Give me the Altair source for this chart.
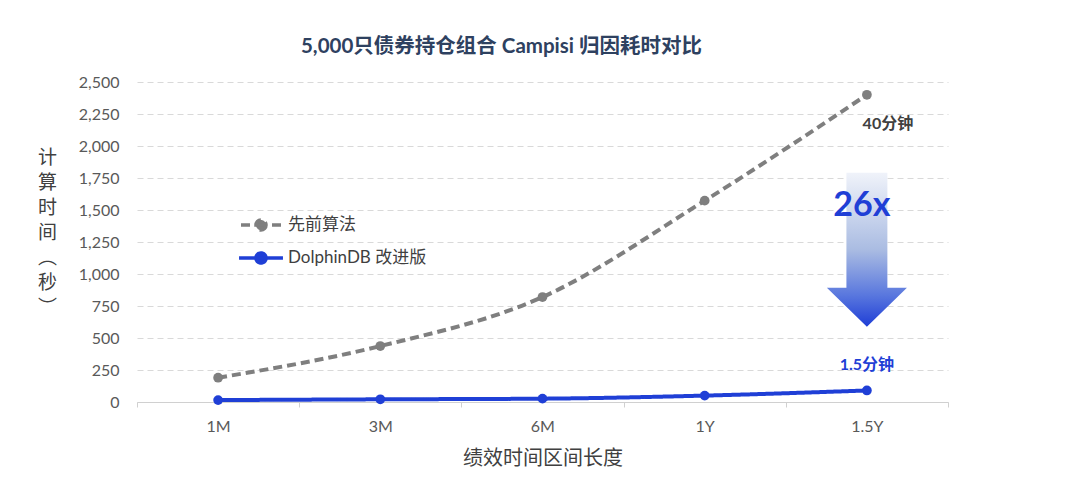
import json
import altair as alt
import pandas as pd

# ---------------- data ----------------
categories = ["1M", "3M", "6M", "1Y", "1.5Y"]
series_names = ["先前算法", "DolphinDB 改进版"]
old_values = [190, 437, 820, 1573, 2400]
new_values = [15, 21, 26, 50, 90]
y_ticks = [0, 250, 500, 750, 1000, 1250, 1500, 1750, 2000, 2250, 2500]
title_text = "5,000只债券持仓组合 Campisi 归因耗时对比"
x_title = "绩效时间区间长度"
y_title = ["计", "算", "时", "间", "︵", "秒", "︶"]
ann_old = ["40分钟"]
ann_new = ["1.5分钟"]
speedup_text = ["26x"]
arrow_value = [1190]

FONT = "Lato, 'Noto Sans CJK SC', sans-serif"
GRAY = "#7f7f7f"
BLUE = "#1f3fd6"

rows = []
for name, vals in zip(series_names, [old_values, new_values]):
    for i, (c, v) in enumerate(zip(categories, vals)):
        rows.append({"series": name, "cat": c, "pos": i + 0.5, "value": v})
df = pd.DataFrame(rows)

last_pos = len(categories) - 0.5
df_old_ann = pd.DataFrame({"pos": [last_pos], "value": [old_values[-1]], "label": ann_old})
df_new_ann = pd.DataFrame({"pos": [last_pos], "value": [new_values[-1]], "label": ann_new})
df_arrow = pd.DataFrame({"pos": [last_pos], "value": arrow_value, "label": speedup_text})

label_expr = json.dumps(categories + [""]) + "[datum.value]"

x_axis = alt.Axis(
    values=list(range(len(categories) + 1)),
    labelExpr=label_expr,
    labelOffset=81,
    labelOverlap=False,
    labelFlush=False,
    labelFont=FONT,
    labelFontSize=16,
    labelColor="#595959",
    labelPadding=11,
    grid=False,
    ticks=True,
    tickSize=5,
    tickColor="#d0d0d0",
    domainColor="#d0d0d0",
    domainWidth=1.2,
    title=x_title,
    titleFont=FONT,
    titleFontSize=20,
    titleFontWeight="normal",
    titleColor="#404040",
    titleY=56,
    titleBaseline="middle",
)
x_scale = alt.Scale(domain=[0, len(categories)], nice=False, zero=False)

y_axis = alt.Axis(
    values=y_ticks,
    tickCount=len(y_ticks),
    format=",d",
    labelOverlap=False,
    labelFont=FONT,
    labelFontSize=16,
    labelColor="#595959",
    labelPadding=18,
    ticks=False,
    domain=False,
    grid=True,
    gridColor="#d9d9d9",
    gridDash=[6, 4],
    gridWidth=1,
    title=y_title,
    titleAngle=0,
    titleX=-90,
    titleY=75,
    titleAlign="center",
    titleBaseline="middle",
    titleLineHeight=25,
    titleFont=FONT,
    titleFontSize=19,
    titleFontWeight="normal",
    titleColor="#404040",
)
y_scale = alt.Scale(domain=[0, 2500], nice=False)


def xe():
    return alt.X("pos:Q", scale=x_scale, axis=x_axis)


def ye():
    return alt.Y("value:Q", scale=y_scale, axis=y_axis)


legend_path = (
    "M0.25,0L-1.83,0M-0.25,0L1.83,0"
    "M0.42,0A0.42,0.42,0,1,1,-0.42,0A0.42,0.42,0,1,1,0.42,0Z"
)
legend = alt.Legend(
    title=None,
    orient="none",
    legendX=110,
    legendY=129,
    symbolType=legend_path,
    symbolSize=576,
    symbolStrokeWidth=3.5,
    labelFont=FONT,
    labelFontSize=17,
    labelColor="#404040",
    labelOffset=13,
    rowPadding=6,
    padding=0,
)

color_scale = alt.Scale(domain=series_names, range=[GRAY, BLUE])
dash_scale = alt.Scale(domain=series_names, range=[[9, 5], [1, 0]])

base = alt.Chart(df)

lines = base.mark_line(strokeWidth=4, interpolate="monotone").encode(
    x=xe(),
    y=ye(),
    stroke=alt.Stroke("series:N", scale=color_scale, legend=legend),
    strokeDash=alt.StrokeDash("series:N", scale=dash_scale, legend=legend),
)

points = base.mark_point(filled=True, size=95, opacity=1).encode(
    x=xe(),
    y=ye(),
    fill=alt.Fill("series:N", scale=color_scale, legend=legend),
)

arrow_path = "M-0.266,-1L0.266,-1L0.266,0.494L0.52,0.494L0,1L-0.52,0.494L-0.266,0.494Z"
arrow = alt.Chart(df_arrow).mark_point(
    shape=arrow_path,
    size=23716,
    filled=True,
    opacity=1,
    strokeOpacity=0,
    fill=alt.Gradient(
        gradient="linear",
        stops=[
            alt.GradientStop(offset=0, color="#f0f3fa"),
            alt.GradientStop(offset=0.5, color="#aabce2"),
            alt.GradientStop(offset=0.8, color="#5876de"),
            alt.GradientStop(offset=1, color="#1f3ed6"),
        ],
        x1=0, y1=0, x2=0, y2=1,
    ),
).encode(x=xe(), y=ye())

speed_text = alt.Chart(df_arrow).mark_text(
    font=FONT, fontSize=34, fontWeight="bold", color=BLUE, dx=-5, dy=-44,
    align="center", baseline="middle",
).encode(x=xe(), y=ye(), text="label:N")

old_text = alt.Chart(df_old_ann).mark_text(
    font=FONT, fontSize=16, fontWeight="bold", color="#404040", dx=21, dy=29,
    align="center", baseline="middle",
).encode(x=xe(), y=ye(), text="label:N")

new_text = alt.Chart(df_new_ann).mark_text(
    font=FONT, fontSize=16, fontWeight="bold", color=BLUE, dy=-25,
    align="center", baseline="middle",
).encode(x=xe(), y=ye(), text="label:N")

chart = (
    alt.layer(lines, points, arrow, speed_text, old_text, new_text)
    .properties(
        width=811,
        height=320,
        title=alt.TitleParams(
            text=title_text,
            font=FONT,
            fontSize=20.5,
            fontWeight="bold",
            color="#2e4160",
            anchor="middle",
            frame="group",
            dx=-41,
            offset=17,
        ),
        autosize=alt.AutoSizeParams(type="none"),
        padding={"left": 129, "top": 74, "right": 120, "bottom": 70},
        background="white",
    )
    .configure_view(stroke=None)
)

chart.save("out.html", embed_options={"renderer": "svg", "actions": False})
